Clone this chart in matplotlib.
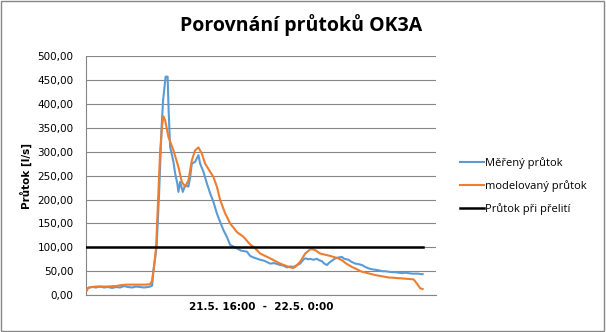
import matplotlib.pyplot as plt
from matplotlib.patches import Rectangle

# measured flow (time step index, l/s)
t_mer = [1, 3, 6, 10, 14, 18, 22, 26, 30, 34, 38, 42, 46, 50, 54, 58, 62, 64, 66, 67,
         70.5, 73, 75.5, 77, 79.5, 81.5, 82.5, 84, 87.3, 89, 91.3, 92.3, 94, 96.7, 99,
         102.3, 104, 105.7, 109, 112.3, 114, 117.3, 120.7, 124, 127.3, 130.7, 134,
         137.3, 140.7, 144, 150.7, 155, 160.7, 164, 167, 170, 174, 178, 184, 188, 194,
         197, 200.7, 204, 207.3, 211, 214, 217, 219, 222, 224, 227, 230.7, 233, 235.7,
         238, 240.7, 243, 245.7, 249, 250.7, 253, 255.7, 258, 262.3, 265, 269, 272,
         275.7, 279, 282.3, 286, 289, 292.3, 296, 299, 302.3, 306, 309, 312.3, 316,
         319, 322.3, 326, 329, 332.3, 334, 336.3]
q_mer = [13, 16, 17, 16, 18, 16, 17, 15, 17, 16, 19, 17, 16, 18, 17, 16, 17, 18, 20, 46,
         101, 213, 352, 408, 457, 457, 387, 310, 279, 255, 232, 216, 237, 216, 230,
         227, 247, 275, 279, 293, 275, 258, 234, 213, 195, 171, 153,
         136, 122, 105, 98, 93, 91, 82, 79, 77, 74, 72, 66, 67, 63,
         62, 58, 60, 59, 63, 66, 74, 77, 75, 76, 74, 76, 73, 71,
         66, 63, 68, 72, 77, 78, 79, 80, 76, 74, 70, 66, 65,
         63, 59, 56, 54, 53, 52, 50, 50, 49, 48, 48, 47, 46,
         47, 46, 45, 45, 45, 44, 44]

# modelled flow
t_mod = [1, 2, 5, 10, 20, 30, 35, 40, 50, 60, 64, 66, 68, 70, 72, 74, 76, 77.3, 79,
         82.3, 87.3, 92.3, 95.7, 99, 102.3, 105.7, 109, 112.3, 115.7, 119, 124, 127.3,
         130.7, 134, 139, 144, 150.7, 157.3, 164, 168, 174, 184, 194, 204, 207, 209,
         214, 219, 224, 226, 229, 234, 244, 252, 255.7, 260, 265.7, 275.7, 289, 302.3,
         315.7, 327.3, 330.7, 334, 336.3]
q_mod = [10, 15, 17, 18, 18, 19, 21, 22, 22, 22, 23, 30, 60, 100, 200, 300, 355, 374, 366,
         331, 303, 268, 237, 227, 240, 282, 303, 309, 296, 275, 258, 247,
         227, 199, 171, 150, 132, 122, 106, 100, 87, 77, 66, 58, 57, 59,
         70, 87, 96, 96, 94, 87, 82, 77, 73, 66, 59, 49, 42, 37,
         35, 33, 24, 14, 13]

# overflow threshold
t_lim = [0, 337]
q_lim = [100, 100]

yticks = [0, 50, 100, 150, 200, 250, 300, 350, 400, 450, 500]

fig = plt.figure(figsize=(6.06, 3.32), dpi=100)
ax = fig.add_axes([0.142, 0.111, 0.578, 0.720])

ax.plot(t_mer, q_mer, color='#5B9BD5', lw=1.5, label='Měřený průtok', zorder=3)
ax.plot(t_mod, q_mod, color='#ED7D31', lw=1.5, label='modelovaný průtok', zorder=4)
ax.plot(t_lim, q_lim, color='black', lw=1.8, label='Průtok při přelití', zorder=5)

ax.set_xlim(0, 350)
ax.set_ylim(0, 500)
ax.set_yticks(yticks)
ax.set_yticklabels([f'{v:.2f}'.replace('.', ',') for v in yticks], fontsize=7.5)
ax.set_xticks([])
ax.tick_params(axis='y', length=0, pad=9)
ax.grid(axis='y', color='#868686', lw=0.8)
ax.set_axisbelow(True)
for s in ['top', 'right']:
    ax.spines[s].set_visible(False)
for s in ['left', 'bottom']:
    ax.spines[s].set_color('#868686')
    ax.spines[s].set_linewidth(0.8)

ax.set_ylabel('Průtok [l/s]', fontsize=7.5, fontweight='bold', labelpad=4)
ax.set_xlabel('21.5. 16:00  -  22.5. 0:00', fontsize=7.5, fontweight='bold', labelpad=5)

fig.text(0.497, 0.925, 'Porovnání průtoků OK3A', ha='center', va='center',
         fontsize=14, fontweight='bold', family='Open Sans')

fig.legend(loc='center left', bbox_to_anchor=(0.742, 0.44), frameon=False,
           prop={'family': 'Open Sans', 'size': 8}, handlelength=2.2,
           handletextpad=0.1, labelspacing=1.0)

fig.patches.append(Rectangle((0.001, 0.002), 0.996, 0.995, transform=fig.transFigure,
                             fill=False, edgecolor='#868686', lw=1))

fig.savefig('out.png', dpi=100)
